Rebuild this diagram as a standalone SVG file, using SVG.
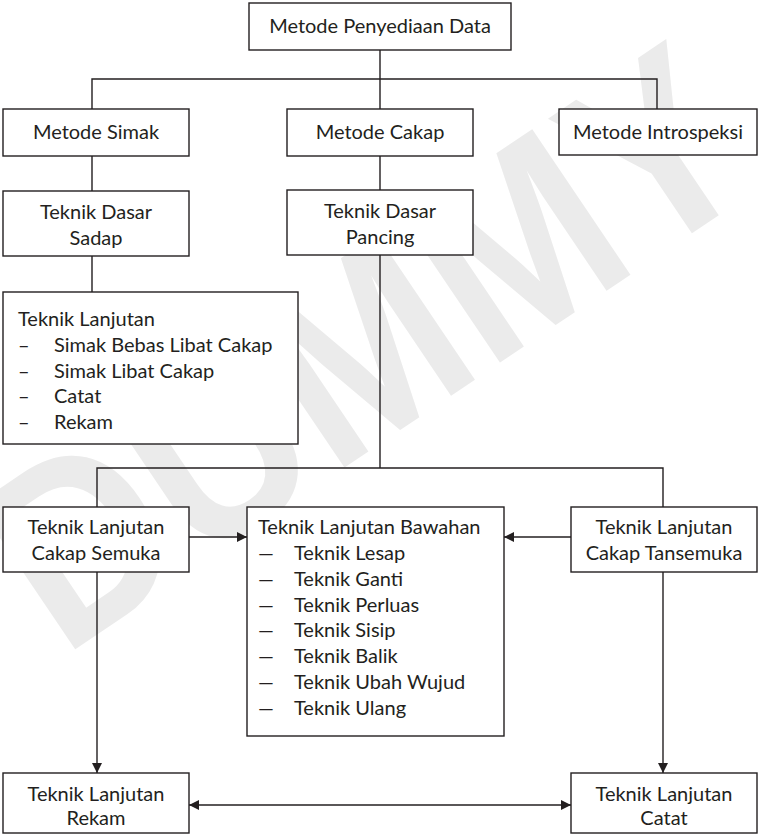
<svg xmlns="http://www.w3.org/2000/svg" width="759" height="838" viewBox="0 0 759 838">
<defs>
<style>
.box{fill:#fff;stroke:#231f20;stroke-width:1.4}
.ln{fill:none;stroke:#231f20;stroke-width:1.4}
text{font-family:Lato,"Open Sans","Liberation Sans",sans-serif;font-size:20px;fill:#231f20}
.c{text-anchor:middle}
.wm{font-family:"Liberation Sans",Arial,sans-serif;font-weight:bold;font-size:255px;fill:#ebebeb;text-anchor:middle}
</style>
<marker id="ah" viewBox="0 0 10 10" refX="10" refY="5" markerWidth="10" markerHeight="10" markerUnits="userSpaceOnUse" orient="auto-start-reverse">
<path d="M0,0 L10,5 L0,10 Z" fill="#231f20"/>
</marker>
</defs>
<rect width="759" height="838" fill="#fff"/>
<text class="wm" x="0" y="0" textLength="850" lengthAdjust="spacingAndGlyphs" transform="translate(415,420) rotate(-34)">DUMMY</text>

<g id="connectors">
<path class="ln" d="M380,50 V79 M92,109 V79 H657 V109 M380,79 V109"/>
<path class="ln" d="M92,156 V191 M380,156 V190 M92,256 V292"/>
<path class="ln" d="M380,255 V468 M97,507 V468 H663 V507"/>
<path class="ln" d="M189,537 H247" marker-end="url(#ah)"/>
<path class="ln" d="M571,537 H504" marker-end="url(#ah)"/>
<path class="ln" d="M97,572 V773" marker-end="url(#ah)"/>
<path class="ln" d="M663,572 V773" marker-end="url(#ah)"/>
<path class="ln" d="M189,805 H571" marker-start="url(#ah)" marker-end="url(#ah)"/>
</g>

<g id="n-penyediaan"><rect class="box" x="249" y="3" width="262" height="47"/><text class="c" x="380" y="33">Metode Penyediaan Data</text></g>
<g id="n-simak"><rect class="box" x="3" y="109" width="186" height="47"/><text class="c" x="96" y="139">Metode Simak</text></g>
<g id="n-cakap"><rect class="box" x="287" y="109" width="186" height="47"/><text class="c" x="380" y="139">Metode Cakap</text></g>
<g id="n-introspeksi"><rect class="box" x="559" y="109" width="198" height="46"/><text class="c" x="658" y="139">Metode Introspeksi</text></g>
<g id="n-sadap"><rect class="box" x="3" y="191" width="186" height="65"/><text class="c" x="96" y="219">Teknik Dasar</text><text class="c" x="96" y="245">Sadap</text></g>
<g id="n-pancing"><rect class="box" x="287" y="190" width="186" height="65"/><text class="c" x="380" y="218">Teknik Dasar</text><text class="c" x="380" y="244">Pancing</text></g>
<g id="n-lanjutan"><rect class="box" x="3" y="292" width="295" height="152"/>
<text x="18" y="326">Teknik Lanjutan</text>
<text x="18" y="352">–</text><text x="54" y="352">Simak Bebas Libat Cakap</text>
<text x="18" y="378">–</text><text x="54" y="378">Simak Libat Cakap</text>
<text x="18" y="403">–</text><text x="54" y="403">Catat</text>
<text x="18" y="429">–</text><text x="54" y="429">Rekam</text>
</g>
<g id="n-semuka"><rect class="box" x="3" y="507" width="186" height="65"/><text class="c" x="96" y="534">Teknik Lanjutan</text><text class="c" x="96" y="560">Cakap Semuka</text></g>
<g id="n-bawahan"><rect class="box" x="247" y="507" width="257" height="229"/>
<text x="258" y="534">Teknik Lanjutan Bawahan</text>
<text x="258" y="560">—</text><text x="294" y="560">Teknik Lesap</text>
<text x="258" y="586">—</text><text x="294" y="586">Teknik Ganti</text>
<text x="258" y="612">—</text><text x="294" y="612">Teknik Perluas</text>
<text x="258" y="637">—</text><text x="294" y="637">Teknik Sisip</text>
<text x="258" y="663">—</text><text x="294" y="663">Teknik Balik</text>
<text x="258" y="689">—</text><text x="294" y="689">Teknik Ubah Wujud</text>
<text x="258" y="715">—</text><text x="294" y="715">Teknik Ulang</text>
</g>
<g id="n-tansemuka"><rect class="box" x="571" y="507" width="186" height="65"/><text class="c" x="664" y="534">Teknik Lanjutan</text><text class="c" x="664" y="560">Cakap Tansemuka</text></g>
<g id="n-rekam"><rect class="box" x="3" y="773" width="186" height="60"/><text class="c" x="96" y="801">Teknik Lanjutan</text><text class="c" x="96" y="825">Rekam</text></g>
<g id="n-catat"><rect class="box" x="571" y="773" width="186" height="60"/><text class="c" x="664" y="801">Teknik Lanjutan</text><text class="c" x="664" y="825">Catat</text></g>
</svg>
